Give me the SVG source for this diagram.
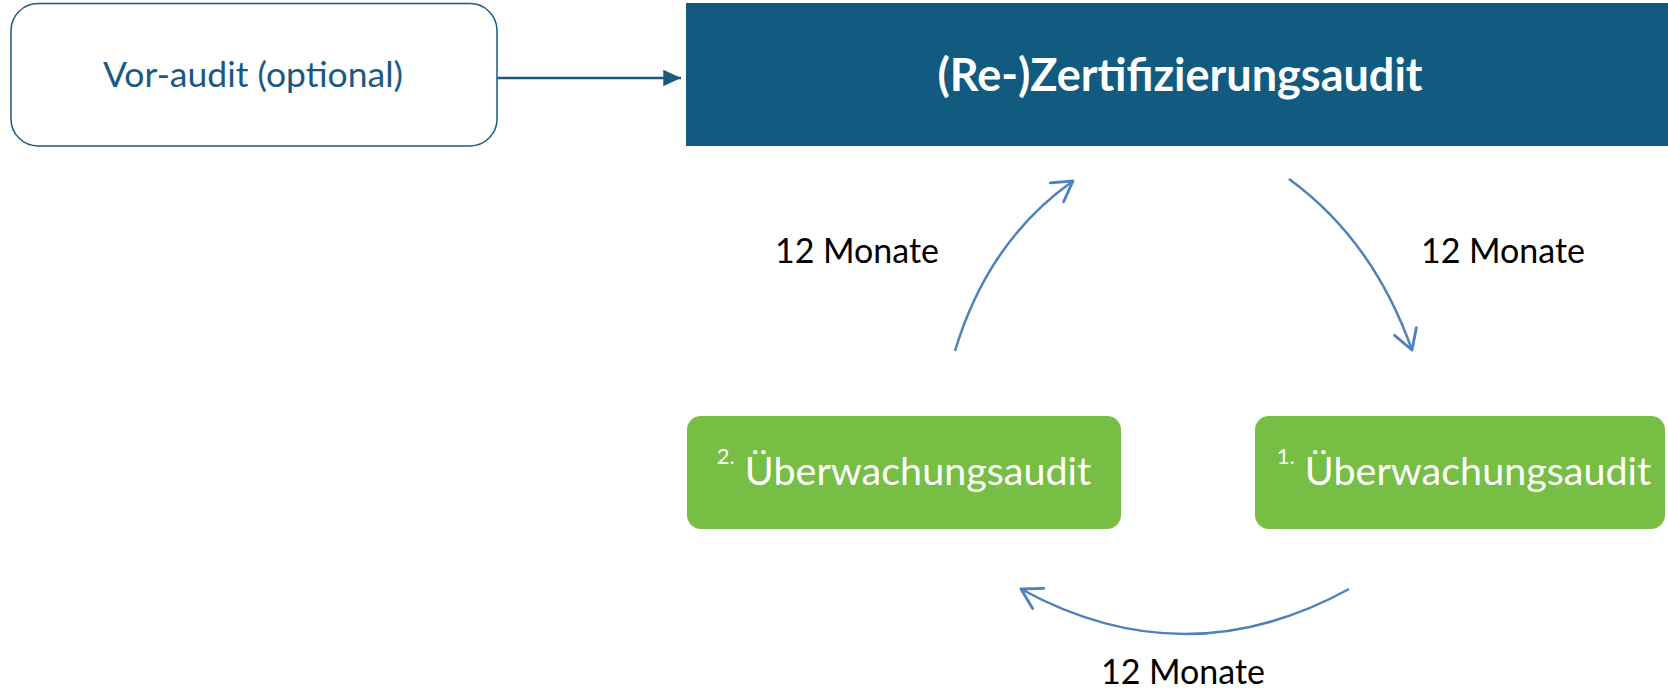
<svg xmlns="http://www.w3.org/2000/svg" width="1668" height="688" viewBox="0 0 1668 688">
  <style>
    .lbl { font-family: Lato, "Open Sans", "Liberation Sans", sans-serif; }
    .months { font-size: 34px; fill: #000000; text-anchor: middle; }
    .green { fill: #76BE44; }
    .cycle { fill: none; stroke: #4F81BD; stroke-width: 2.5; }
    .wtxt { fill: #FFFFFF; }
  </style>
  <defs>
    <marker id="openHead" markerUnits="userSpaceOnUse" markerWidth="30" markerHeight="30" viewBox="-20 -13 24 26" refX="0" refY="0" orient="auto">
      <path d="M -17 -10 L 0 0 L -17 10" fill="none" stroke="#4F81BD" stroke-width="2.5" stroke-linecap="round" stroke-linejoin="round"/>
    </marker>
    <marker id="solidHead" markerUnits="userSpaceOnUse" markerWidth="20" markerHeight="20" viewBox="-17 -8 18 16" refX="0" refY="0" orient="auto">
      <path d="M -16 -7.5 L 0 0 L -16 7.5 Z" fill="#1B5A80"/>
    </marker>
  </defs>

  <!-- Pre-audit (optional) -->
  <g id="node-vor-audit">
    <rect x="11" y="3.5" width="486" height="142.5" rx="27" ry="27" fill="#FFFFFF" stroke="#1F5B80" stroke-width="1.5"/>
    <text class="lbl" x="253" y="87" font-size="35.5" fill="#1A5A82" text-anchor="middle">Vor-audit (optional)</text>
  </g>

  <!-- (Re-)certification audit banner -->
  <g id="node-zertifizierung">
    <rect x="686" y="3" width="982" height="143" fill="#115A80"/>
    <text class="lbl wtxt" x="1180" y="91" font-size="45" font-weight="bold" text-anchor="middle">(Re-)Zertifizierungsaudit</text>
  </g>

  <!-- Surveillance audits -->
  <g id="node-ueberwachung-1">
    <rect class="green" x="1255" y="416" width="410" height="113" rx="14" ry="14"/>
    <text class="lbl wtxt" x="1464" y="485" text-anchor="middle"><tspan font-size="22" dy="-21">1.</tspan><tspan font-size="39.5" dy="21"> Überwachungsaudit</tspan></text>
  </g>
  <g id="node-ueberwachung-2">
    <rect class="green" x="687" y="416" width="434" height="113" rx="14" ry="14"/>
    <text class="lbl wtxt" x="904" y="485" text-anchor="middle"><tspan font-size="22" dy="-21">2.</tspan><tspan font-size="39.5" dy="21"> Überwachungsaudit</tspan></text>
  </g>

  <!-- Connectors -->
  <g id="connectors">
    <line x1="497" y1="78" x2="681" y2="78" stroke="#1B5A80" stroke-width="2.5" marker-end="url(#solidHead)"/>
    <path class="cycle" d="M 1289 179 Q 1373 240 1412 350" marker-end="url(#openHead)"/>
    <path class="cycle" d="M 1349 589 Q 1185 679 1021 589" marker-end="url(#openHead)"/>
    <path class="cycle" d="M 955 351 Q 988 241 1073 181" marker-end="url(#openHead)"/>
  </g>

  <!-- Interval labels -->
  <g id="labels">
    <text class="lbl months" x="857" y="263">12 Monate</text>
    <text class="lbl months" x="1503" y="263">12 Monate</text>
    <text class="lbl months" x="1183" y="684">12 Monate</text>
  </g>
</svg>
